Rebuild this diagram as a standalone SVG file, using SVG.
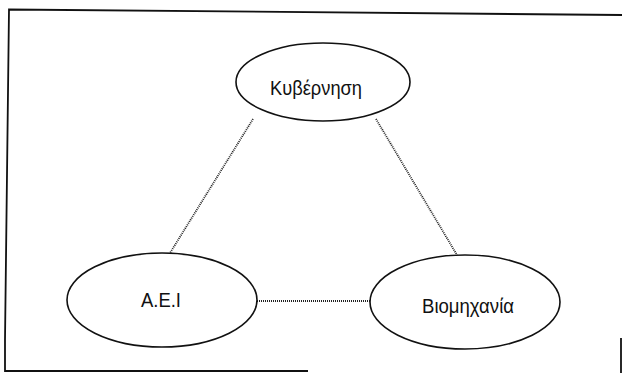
<svg xmlns="http://www.w3.org/2000/svg" width="622" height="373" viewBox="0 0 622 373">
<style>
.node ellipse{fill:#fff;stroke:#111;stroke-width:1.6}
.node text{font-family:"Liberation Sans","DejaVu Sans",sans-serif;font-size:19.5px;fill:#111;text-anchor:middle}
.conn line{stroke:#222;stroke-width:1.8;stroke-dasharray:1 1}
.frame{fill:none;stroke:#111;stroke-width:1.8}
</style>
<rect width="622" height="373" fill="#fff"/>
<path class="frame" d="M308,371 L5,371 L5,340 L9,9.5 L622,15"/>
<path class="frame" d="M621,338 L621,373"/>
<g id="connectors" class="conn">
<line x1="253" y1="119" x2="170" y2="253"/>
<line x1="376" y1="119" x2="457" y2="255"/>
<line x1="257" y1="301" x2="370" y2="301"/>
</g>
<g id="kyvernisi" class="node">
<ellipse cx="323" cy="82" rx="87" ry="39"/>
<text x="316" y="95" textLength="92" lengthAdjust="spacingAndGlyphs">Κυβέρνηση</text>
</g>
<g id="aei" class="node">
<ellipse cx="162" cy="300" rx="95" ry="47"/>
<text x="161" y="307" textLength="40" lengthAdjust="spacingAndGlyphs">A.E.I</text>
</g>
<g id="viomichania" class="node">
<ellipse cx="465" cy="302" rx="95" ry="47"/>
<text x="468" y="313" textLength="92" lengthAdjust="spacingAndGlyphs">Βιομηχανία</text>
</g>
</svg>
